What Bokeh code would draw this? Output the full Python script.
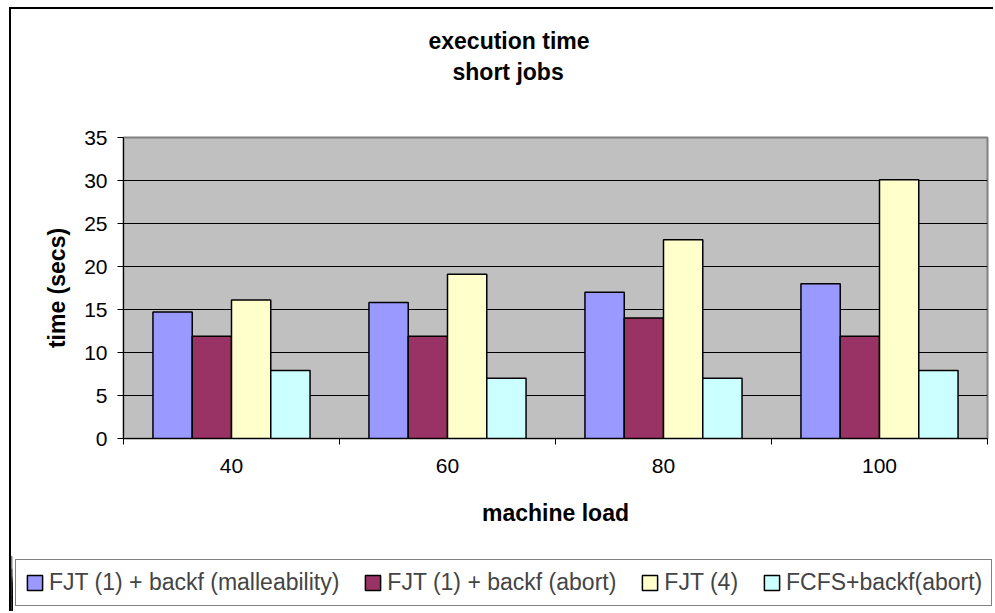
from bokeh.plotting import figure
from bokeh.models import (ColumnDataSource, Range1d, FixedTicker, Legend, LegendItem, Title)
from bokeh.transform import dodge
from bokeh.embed import file_html
from bokeh.resources import INLINE

# ---------------- data ----------------
loads = ["40", "60", "80", "100"]
series_names = ["FJT (1) + backf (malleability)", "FJT (1) + backf (abort)",
                "FJT (4)", "FCFS+backf(abort)"]
malleability = [14.7, 15.8, 17.0, 18.0]
abort = [11.9, 11.9, 14.0, 11.9]
fjt4 = [16.1, 19.1, 23.1, 30.1]
fcfs = [7.9, 7.0, 7.0, 7.9]
y_ticks = [0, 5, 10, 15, 20, 25, 30, 35]
colors = ["#9999FF", "#993366", "#FFFFCC", "#CCFFFF"]

FONT = "Liberation Sans"

# category slots: category k occupies [k, k+1] on the x scale
centers = [k + 0.5 for k in range(len(loads))]
source = ColumnDataSource(dict(load=loads, xc=centers,
                               s0=malleability, s1=abort, s2=fjt4, s3=fcfs))

W = 984
p = figure(width=W, height=540,
           x_range=Range1d(0, len(loads)), y_range=Range1d(y_ticks[0], y_ticks[-1]),
           output_backend="svg", toolbar_location=None,
           min_border_left=112, min_border_right=8, min_border_top=128,
           min_border_bottom=111,
           background_fill_color="#C0C0C0", border_fill_color="white",
           outline_line_color="#808080", outline_line_width=2,
           styles={"margin-left": "9px", "margin-top": "7px",
                   "border-top": "2px solid black", "border-left": "2px solid black"})

# bars
n = len(series_names)
bw = 1 / 5.5
renderers = []
for i in range(n):
    r = p.vbar(x=dodge("xc", (i - (n - 1) / 2) * bw), top="s%d" % i, width=bw,
               source=source, fill_color=colors[i], line_color="black", line_width=1.5)
    renderers.append(r)

# y axis
yax = p.yaxis[0]
yax.ticker = FixedTicker(ticks=y_ticks)
yax.axis_label = "time (secs)"
yax.axis_label_text_font = FONT
yax.axis_label_text_font_style = "bold"
yax.axis_label_text_font_size = "23px"
yax.axis_label_text_color = "black"
yax.axis_label_standoff = 11
yax.major_label_text_font = FONT
yax.major_label_text_font_size = "21px"
yax.major_label_text_color = "black"
yax.major_label_standoff = 10
yax.major_tick_in = 0
yax.major_tick_out = 6
yax.minor_tick_line_color = None
yax.axis_line_color = "black"
yax.major_tick_line_color = "black"

p.ygrid.ticker = FixedTicker(ticks=y_ticks[1:-1])
p.ygrid.grid_line_color = "black"
p.ygrid.grid_line_width = 1
p.xgrid.visible = False

# x axis: labels at category centres, tick marks at category boundaries
xax = p.xaxis[0]
xax.ticker = FixedTicker(ticks=centers, minor_ticks=list(range(len(loads) + 1)))
xax.major_label_overrides = {c: lab for c, lab in zip(centers, loads)}
xax.axis_label = "machine load"
xax.axis_label_text_font = FONT
xax.axis_label_text_font_style = "bold"
xax.axis_label_text_font_size = "23px"
xax.axis_label_text_color = "black"
xax.axis_label_standoff = 24
xax.major_label_text_font = FONT
xax.major_label_text_font_size = "21px"
xax.major_label_text_color = "black"
xax.major_label_standoff = 14
xax.major_tick_line_color = None
xax.major_tick_in = 0
xax.major_tick_out = 6
xax.minor_tick_line_color = "black"
xax.minor_tick_in = 0
xax.minor_tick_out = 6
xax.axis_line_color = "black"

# title (two lines, centred on the whole chart rather than the plot area)
p.add_layout(Title(text=" ", text_font_size="10px", standoff=38), "above")
p.add_layout(Title(text="short jobs", align="left", offset=329, standoff=3,
                   text_font=FONT, text_font_style="bold", text_font_size="23px",
                   text_color="black"), "above")
p.add_layout(Title(text="execution time", align="left", offset=305, standoff=3,
                   text_font=FONT, text_font_style="bold", text_font_size="23px",
                   text_color="black"), "above")

# legend strip: a second root figure whose frame fills it, so the legend is not clipped.
# Its x range lies beside the data, so its bars only show up as legend swatches.
lp = figure(width=W, height=64,
            x_range=Range1d(len(loads) + 1, len(loads) + 2),
            y_range=Range1d(y_ticks[0], y_ticks[-1]),
            output_backend="svg", toolbar_location=None,
            x_axis_location=None, y_axis_location=None,
            min_border=0, min_border_left=0, min_border_right=0,
            min_border_top=0, min_border_bottom=0,
            background_fill_color="white", border_fill_color="white",
            outline_line_color=None,
            styles={"margin-left": "9px", "border-left": "2px solid black"})
lp.xgrid.visible = False
lp.ygrid.visible = False
leg_renderers = []
for i in range(n):
    r = lp.vbar(x=dodge("xc", (i - (n - 1) / 2) * bw), top="s%d" % i, width=bw,
                source=source, fill_color=colors[i], line_color="black", line_width=1.5)
    leg_renderers.append(r)

legend = Legend(items=[LegendItem(label=series_names[i], renderers=[leg_renderers[i]]) for i in range(n)],
                orientation="horizontal", location=(4, 5),
                glyph_width=19, glyph_height=19, label_standoff=5, spacing=24,
                padding=9, margin=0, border_line_color="black", border_line_width=1,
                label_text_font=FONT, label_text_font_size="23px",
                background_fill_color="white", background_fill_alpha=1)
lp.add_layout(legend, "center")

open("out.html", "w").write(file_html([p, lp], INLINE))
